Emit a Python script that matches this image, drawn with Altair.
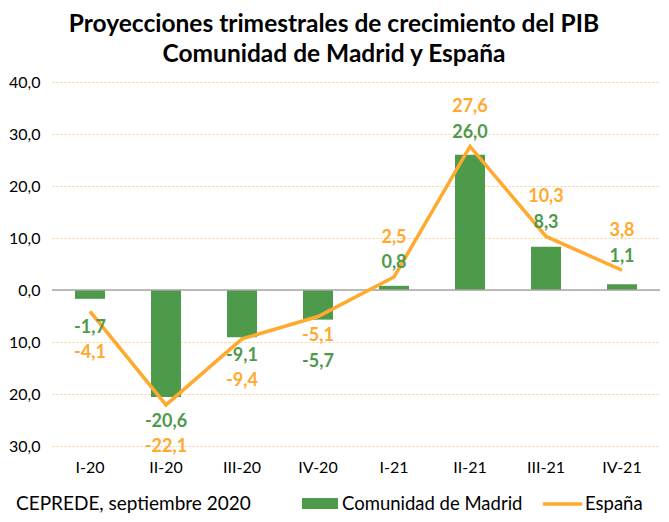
import altair as alt
import pandas as pd

quarters = ["I-20", "II-20", "III-20", "IV-20", "I-21", "II-21", "III-21", "IV-21"]
madrid = [-1.7, -20.6, -9.1, -5.7, 0.8, 26.0, 8.3, 1.1]
espana = [-4.1, -22.1, -9.4, -5.1, 2.5, 27.6, 10.3, 3.8]
upper_label = ["Comunidad de Madrid"] * 3 + ["España"] * 5

S_M = "Comunidad de Madrid"
S_E = "España"
GREEN = "#4E9A4B"
ORANGE = "#FFA92E"
FONT = "Lato"
W, H = 608, 364

def fmt(v):
    return f"{v:.1f}".replace(".", ",")

base_df = pd.DataFrame({"q": quarters, "madrid": madrid, "espana": espana})
one = pd.DataFrame({"k": [0]})

rows = []
for q, m, e, up in zip(quarters, madrid, espana, upper_label):
    if max(m, e) > 0:
        top = max(m, e) + 7.5
    else:
        top = min(m, e) - 3.2
    other = S_E if up == S_M else S_M
    vals = {S_M: m, S_E: e}
    rows.append({"q": q, "serie": up, "ly": top, "txt": fmt(vals[up])})
    rows.append({"q": q, "serie": other, "ly": top - 4.9, "txt": fmt(vals[other])})
lab_df = pd.DataFrame(rows)

xenc = alt.X("q:N", sort=quarters, scale=alt.Scale(paddingInner=0, paddingOuter=0),
             axis=alt.Axis(title=None, labelAngle=0, ticks=False, domain=False,
                           labelFont=FONT, labelFontSize=16, labelColor="#000000",
                           labelPadding=13, grid=False))
yscale = alt.Scale(domain=[-30, 40], nice=False)
yaxis = alt.Axis(title=None, values=[-30, -20, -10, 0, 10, 20, 30, 40],
                 labelExpr="replace(format(abs(datum.value), '.1f'), '.', ',')",
                 labelFont=FONT, labelFontSize=16, labelColor="#000000",
                 ticks=False, domain=False, labelPadding=12,
                 grid=True, gridColor="#F9CF96", gridDash=[2, 2], gridWidth=1)

bars = alt.Chart(base_df).mark_bar(color=GREEN, size=30).encode(
    x=xenc, y=alt.Y("madrid:Q", scale=yscale, axis=yaxis))

zero = alt.Chart(one).mark_rule(color="#A6A6A6", strokeWidth=1.5).encode(
    y=alt.datum(0), x=alt.value(0), x2=alt.value(W))

line = alt.Chart(base_df).mark_line(color=ORANGE, strokeWidth=3.5).encode(
    x=alt.X("q:N", sort=quarters), y=alt.Y("espana:Q"))

labels = alt.Chart(lab_df).mark_text(font=FONT, fontSize=18, fontWeight="bold",
                                     baseline="middle").encode(
    x=alt.X("q:N", sort=quarters), y=alt.Y("ly:Q"), text="txt:N",
    color=alt.Color("serie:N", scale=alt.Scale(domain=[S_M, S_E], range=[GREEN, ORANGE]),
                    legend=None))

FY = 422
foot = alt.Chart(one).mark_text(font=FONT, fontSize=19, align="left",
                                baseline="middle", color="#000000").encode(
    x=alt.value(-36), y=alt.value(FY), text=alt.value("CEPREDE, septiembre 2020"))
leg_rect = alt.Chart(one).mark_rect(color=GREEN).encode(
    x=alt.value(250), x2=alt.value(286), y=alt.value(FY - 6), y2=alt.value(FY + 5))
leg_t1 = alt.Chart(one).mark_text(font=FONT, fontSize=18.5, align="left",
                                  baseline="middle", color="#000000").encode(
    x=alt.value(290), y=alt.value(FY), text=alt.value(S_M))
leg_line = alt.Chart(one).mark_rule(color=ORANGE, strokeWidth=3.5).encode(
    x=alt.value(491), x2=alt.value(530), y=alt.value(FY))
leg_t2 = alt.Chart(one).mark_text(font=FONT, fontSize=18.5, align="left",
                                  baseline="middle", color="#000000").encode(
    x=alt.value(533), y=alt.value(FY), text=alt.value(S_E))

chart = alt.layer(bars, zero, line, labels, foot, leg_rect, leg_t1, leg_line, leg_t2).properties(
    width=W, height=H,
    autosize=alt.AutoSizeParams(type="none"),
    padding={"left": 44, "top": 74, "right": 1, "bottom": 68},
    title=alt.TitleParams(
        text=["Proyecciones trimestrales de crecimiento del PIB", "Comunidad de Madrid y España"],
        font=FONT, fontSize=24.5, fontWeight="bold", color="#000000",
        anchor="middle", dx=-22, lineHeight=30, offset=7),
).configure_view(stroke=None)

chart.save("out.html", embed_options={"renderer": "svg", "actions": False})
